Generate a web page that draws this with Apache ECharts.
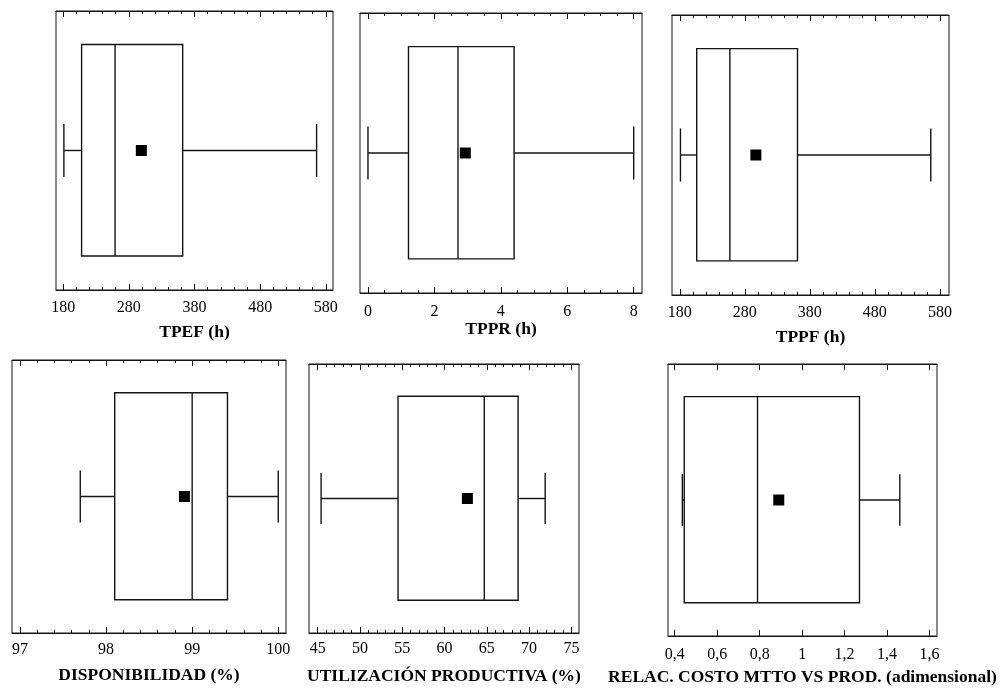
<!DOCTYPE html>
<html>
<head>
<meta charset="utf-8">
<title>Diagramas de caja de indicadores de mantenimiento</title>
<script src="https://cdn.jsdelivr.net/npm/echarts@6/dist/echarts.min.js"></script>
<style>
  html, body { margin: 0; padding: 0; background: #ffffff; }
  #chart { width: 1000px; height: 689px; }
</style>
</head>
<body>
<div id="chart"></div>
<script>
// Indicator names (axis titles)
const categories = [
  'TPEF (h)',
  'TPPR (h)',
  'TPPF (h)',
  'DISPONIBILIDAD (%)',
  'UTILIZACIÓN PRODUCTIVA (%)',
  'RELAC. COSTO MTTO VS PROD. (adimensional)'
];

// Five-number summaries and means
const minVals    = [181,   0.0,  181,   97.70, 45.4, 0.436];
const q1Vals     = [208,   1.22, 206,   98.10, 54.5, 0.445];
const medianVals = [259,   2.71, 257,   99.00, 64.7, 0.79];
const q3Vals     = [362,   4.40, 361,   99.41, 68.7, 1.27];
const maxVals    = [566,   8.0,  566,  100.00, 71.9, 1.46];
const meanVals   = [299,   2.93, 297,   98.91, 62.7, 0.89];

// Axis extents
const axisMins = [169,  -0.24, 168,  96.907, 43.97, 0.3685];
const axisMaxs = [591,   8.25, 594, 100.09,  75.9,  1.635];

// Tick labels (major ticks) and minor tick step per panel
const majorTicks = [
  [180, 280, 380, 480, 580],
  [0, 2, 4, 6, 8],
  [180, 280, 380, 480, 580],
  [97, 98, 99, 100],
  [45, 50, 55, 60, 65, 70, 75],
  [0.4, 0.6, 0.8, 1, 1.2, 1.4, 1.6]
];
const minorSteps = [20, 0.5, 20, 0.2, 1, null];

// Panel placement on the page
const grids = [
  { left: 56,  top: 11,  width: 277, height: 279 },
  { left: 360, top: 13,  width: 282, height: 280 },
  { left: 672, top: 15,  width: 277, height: 280 },
  { left: 12,  top: 360, width: 274, height: 273 },
  { left: 309, top: 364, width: 270, height: 269 },
  { left: 668, top: 364, width: 269, height: 272 }
];
const labelMargins = [10, 11, 10, 9, 8, 11];
const nameGaps = [33, 26, 33, 33, 34, 32];

const INK = '#141414';
const SERIF = '"Liberation Serif", "Times New Roman", serif';
const BOX_LO = 0.122, BOX_HI = 0.88, CAP_LO = 0.405, CAP_HI = 0.595, MID = 0.5;

function minorValues(i) {
  const step = minorSteps[i];
  if (!step) return [];
  const majors = majorTicks[i];
  const out = [];
  const n = Math.round((majors[majors.length - 1] - majors[0]) / step);
  for (let k = 0; k <= n; k++) {
    const v = +(majors[0] + k * step).toFixed(6);
    if (!majors.some(m => Math.abs(m - v) < 1e-9)) out.push(v);
  }
  return out;
}

function fmt(i) {
  return function (v) {
    return i === 5 ? String(+v.toFixed(2)).replace('.', ',') : String(v);
  };
}

const option = {
  backgroundColor: '#ffffff',
  animation: false,
  grid: grids.map(g => Object.assign({ show: true, borderColor: INK, borderWidth: 1, backgroundColor: 'transparent' }, g)),
  xAxis: [],
  yAxis: [],
  series: []
};

categories.forEach((name, i) => {
  const base = { type: 'value', gridIndex: i, min: axisMins[i], max: axisMaxs[i], splitLine: { show: false } };
  const xMain = option.xAxis.length;
  // bottom axis with labels, title and major ticks
  option.xAxis.push(Object.assign({}, base, {
    position: 'bottom',
    name: name,
    nameLocation: 'middle',
    nameGap: nameGaps[i],
    nameTextStyle: { fontFamily: SERIF, fontWeight: 'bold', fontSize: 17.5, color: '#000' },
    axisLine: { show: true, lineStyle: { color: INK, width: 1 } },
    axisTick: { show: true, inside: true, length: 6, customValues: majorTicks[i], lineStyle: { color: INK } },
    axisLabel: { show: true, customValues: majorTicks[i], margin: labelMargins[i], fontFamily: SERIF, fontSize: 16, color: '#000', formatter: fmt(i) }
  }));
  // bottom minor ticks
  option.xAxis.push(Object.assign({}, base, {
    position: 'bottom',
    axisLine: { show: false },
    axisTick: { show: minorValues(i).length > 0, inside: true, length: 3, customValues: minorValues(i), lineStyle: { color: INK } },
    axisLabel: { show: false }
  }));
  // top major ticks
  option.xAxis.push(Object.assign({}, base, {
    position: 'top',
    axisLine: { show: true, lineStyle: { color: INK, width: 1 } },
    axisTick: { show: true, inside: true, length: 6, customValues: majorTicks[i], lineStyle: { color: INK } },
    axisLabel: { show: false }
  }));
  // top minor ticks
  option.xAxis.push(Object.assign({}, base, {
    position: 'top',
    axisLine: { show: false },
    axisTick: { show: minorValues(i).length > 0, inside: true, length: 3, customValues: minorValues(i), lineStyle: { color: INK } },
    axisLabel: { show: false }
  }));

  option.yAxis.push({ type: 'value', gridIndex: i, min: 0, max: 1, show: false });

  // box, median and whiskers
  option.series.push({
    type: 'custom',
    xAxisIndex: xMain,
    yAxisIndex: i,
    data: [[minVals[i], q1Vals[i], medianVals[i], q3Vals[i], maxVals[i]]],
    encode: { x: [0, 1, 2, 3, 4] },
    renderItem: function (params, api) {
      const lo = api.value(0), q1 = api.value(1), med = api.value(2), q3 = api.value(3), hi = api.value(4);
      const yTop = api.coord([q1, BOX_HI])[1];
      const yBot = api.coord([q1, BOX_LO])[1];
      const yMid = api.coord([q1, MID])[1];
      const cTop = api.coord([q1, CAP_HI])[1];
      const cBot = api.coord([q1, CAP_LO])[1];
      const xLo = api.coord([lo, MID])[0];
      const x1 = api.coord([q1, MID])[0];
      const xM = api.coord([med, MID])[0];
      const x3 = api.coord([q3, MID])[0];
      const xHi = api.coord([hi, MID])[0];
      const st = { stroke: INK, lineWidth: 1.4, fill: null };
      const line = (a, b, c, d) => ({ type: 'line', shape: { x1: a, y1: b, x2: c, y2: d }, style: st });
      return {
        type: 'group',
        children: [
          { type: 'rect', shape: { x: x1, y: yTop, width: x3 - x1, height: yBot - yTop }, style: { stroke: INK, lineWidth: 1.4, fill: 'transparent' } },
          line(xM, yTop, xM, yBot),
          line(xLo, yMid, x1, yMid),
          line(x3, yMid, xHi, yMid),
          line(xLo, cTop, xLo, cBot),
          line(xHi, cTop, xHi, cBot)
        ]
      };
    },
    silent: true,
    z: 3
  });

  // mean marker
  option.series.push({
    type: 'scatter',
    xAxisIndex: xMain,
    yAxisIndex: i,
    symbol: 'rect',
    symbolSize: 11,
    itemStyle: { color: '#000000', opacity: 1 },
    data: [[meanVals[i], MID]],
    silent: true,
    z: 5
  });
});

const chart = echarts.init(document.getElementById('chart'), null, { renderer: 'canvas' });
chart.setOption(option);
</script>
</body>
</html>
